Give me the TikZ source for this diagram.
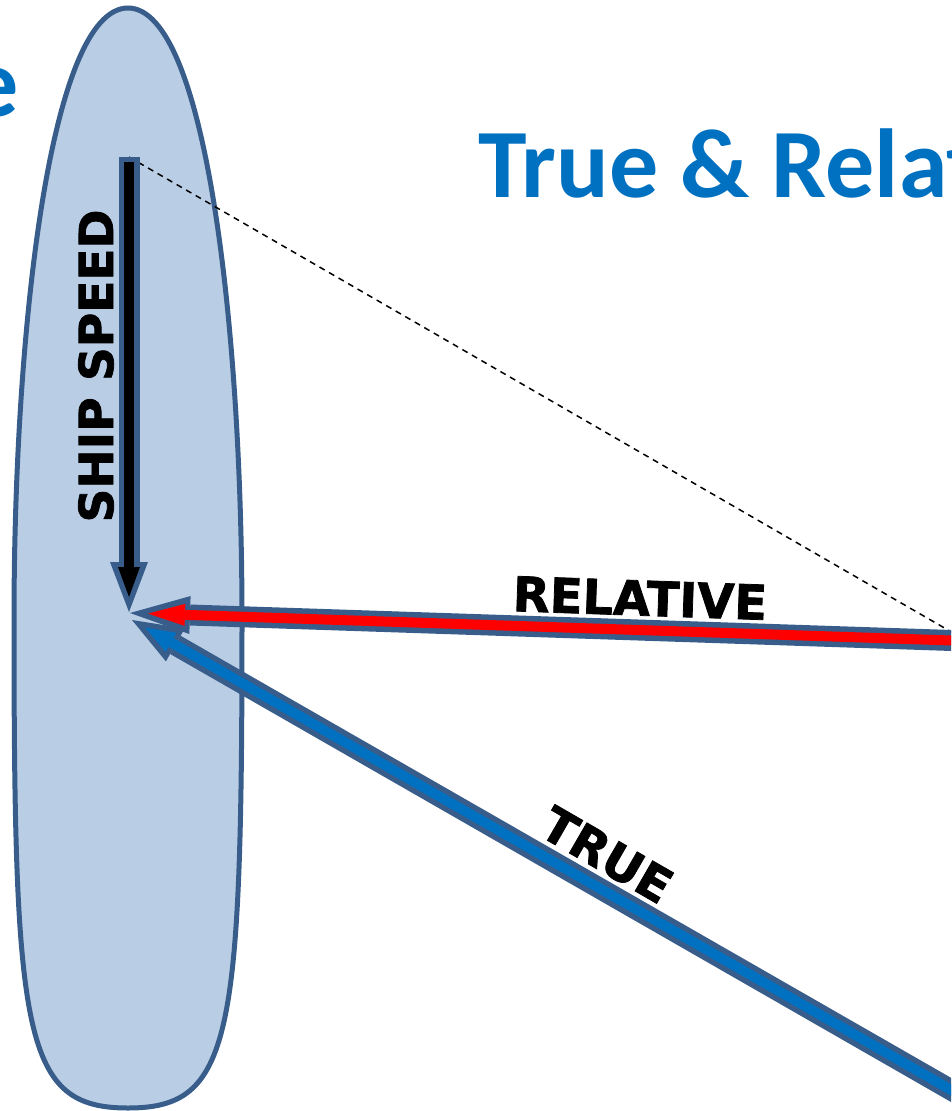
\documentclass[tikz,border=0pt]{standalone}
\usepackage{fontspec}
\usetikzlibrary{arrows.meta}

\newfontfamily\titlefont{Carlito}
\newfontfamily\labelfont{DejaVu Sans}[BoldFeatures={FakeBold=1.6}]
\definecolor{shipline}{HTML}{385D8A}
\definecolor{shipfill}{HTML}{B9CDE5}
\definecolor{titleblue}{HTML}{0070C0}

\tikzset{
	outerarrow/.style={shipline, line width=21pt, -{Triangle[length=#1, width=38pt, line width=0pt]}},
	innerarrow/.style n args={3}{#1, line width=10pt, shorten <=5pt, shorten >=#2, -{Triangle[length=#3, width=22pt, line width=0pt]}},
	labeltext/.style={inner sep=0pt, font=\labelfont\bfseries\fontsize{48}{50}\selectfont},
	titletext/.style={inner sep=0pt, text=titleblue, font=\titlefont\bfseries\fontsize{98}{100}\selectfont}
}

\begin{document}
\begin{tikzpicture}[x=1pt, y=-1pt]

	\useasboundingbox (0,0) rectangle (951,1111);
	\clip (0,0) rectangle (951,1111);

	\draw[shipline, fill=shipfill, line width=5pt] (128,8) .. controls (50,8) and (14,330) .. (14,620)
		.. controls (14,1040) and (24,1108) .. (128,1108)
		.. controls (232,1108) and (242,1040) .. (242,620)
		.. controls (242,330) and (206,8) .. (128,8) -- cycle;

	\coordinate (shipstart) at (129,157);
	\coordinate (shiptip) at (129,612);
	\coordinate (relstart) at (967,641);
	\coordinate (reltip) at (130,613);
	\coordinate (truestart) at (1000,1118);
	\coordinate (truetip) at (132,620);

	\draw[line width=1.5pt, dash pattern=on 6pt off 5pt] (shipstart) -- (relstart);

	\draw[outerarrow=50pt] (shipstart) -- (shiptip);
	\draw[innerarrow={black}{15pt}{30pt}] (shipstart) -- (shiptip);

	\draw[outerarrow=50pt] (truestart) -- (truetip);
	\draw[innerarrow={titleblue}{15pt}{30pt}] (truestart) -- (truetip);

	\draw[outerarrow=60pt] (relstart) -- (reltip);
	\draw[innerarrow={red}{18pt}{37pt}] (relstart) -- (reltip);

	\node[labeltext, rotate=90, font=\labelfont\bfseries\fontsize{47}{50}\selectfont] (shiplabel) at (96,366) {SHIP SPEED};
	\node[labeltext, rotate=-2] (rellabel) at (640,598) {RELATIVE};
	\node[labeltext, rotate=-30] (truelabel) at (607,855) {TRUE};

	\node[titletext, anchor=base west] (title) at (478,197) {True \& Relat};
	\node[titletext, anchor=base east] (lefttitle) at (19,116) {e};

\end{tikzpicture}
\end{document}
